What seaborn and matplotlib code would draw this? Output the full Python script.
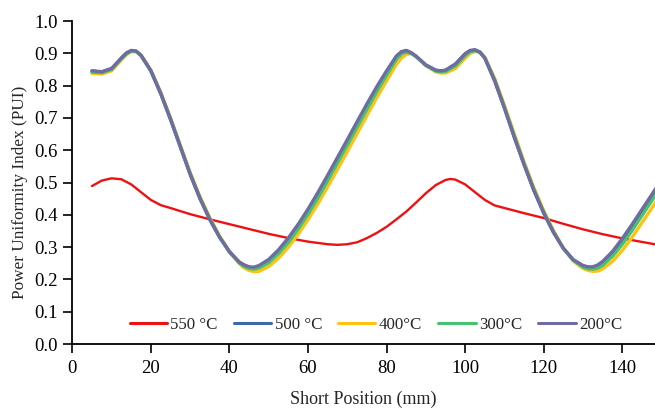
import matplotlib
matplotlib.use("Agg")
import matplotlib.pyplot as plt
import seaborn as sns
import pandas as pd

x_main = [5, 7.5, 10, 12.5, 13.75, 15, 16.25, 17.5, 20, 22.5,
          25, 27.5, 30, 32.5, 35, 37.5, 40, 42.5, 43.75, 45,
          46.25, 47.5, 50, 52.5, 55, 57.5, 60, 62.5, 65, 67.5,
          70, 72.5, 75, 77.5, 80, 82.5, 83.75, 85, 86.25, 87.5,
          90, 92.5, 93.75, 95, 97.5, 100, 101.25, 102.5, 103.75, 105,
          107.5, 110, 112.5, 115, 117.5, 120, 122.5, 125, 127.5, 130,
          131.25, 132.5, 133.75, 135, 137.5, 140, 142.5, 145, 147.5, 150]

pui_500 = [0.845, 0.842, 0.852, 0.885, 0.900, 0.908, 0.906, 0.893, 0.845, 0.775,
           0.695, 0.610, 0.525, 0.450, 0.385, 0.330, 0.285, 0.253, 0.243, 0.237,
           0.236, 0.240, 0.258, 0.287, 0.323, 0.365, 0.412, 0.463, 0.517, 0.572,
           0.627, 0.683, 0.738, 0.792, 0.842, 0.890, 0.904, 0.908, 0.901, 0.890,
           0.863, 0.847, 0.845, 0.847, 0.866, 0.898, 0.908, 0.910, 0.903, 0.885,
           0.815, 0.730, 0.640, 0.555, 0.475, 0.405, 0.345, 0.295, 0.260, 0.241,
           0.237, 0.237, 0.242, 0.252, 0.283, 0.322, 0.366, 0.412, 0.458, 0.505]

pui_400 = [0.838, 0.836, 0.846, 0.880, 0.896, 0.905, 0.905, 0.894, 0.848, 0.779,
           0.700, 0.615, 0.531, 0.456, 0.391, 0.334, 0.286, 0.249, 0.236, 0.228,
           0.224, 0.225, 0.240, 0.266, 0.300, 0.340, 0.385, 0.434, 0.487, 0.541,
           0.596, 0.652, 0.708, 0.763, 0.815, 0.866, 0.885, 0.897, 0.899, 0.891,
           0.862, 0.843, 0.839, 0.839, 0.853, 0.885, 0.900, 0.906, 0.903, 0.888,
           0.822, 0.738, 0.650, 0.563, 0.483, 0.412, 0.350, 0.297, 0.257, 0.234,
           0.228, 0.225, 0.226, 0.233, 0.256, 0.290, 0.331, 0.376, 0.421, 0.467]

pui_300 = [0.842, 0.840, 0.850, 0.883, 0.898, 0.907, 0.906, 0.893, 0.846, 0.777,
           0.697, 0.612, 0.527, 0.452, 0.387, 0.331, 0.285, 0.251, 0.240, 0.234,
           0.232, 0.235, 0.252, 0.280, 0.315, 0.356, 0.402, 0.452, 0.506, 0.561,
           0.616, 0.672, 0.727, 0.782, 0.832, 0.882, 0.898, 0.904, 0.900, 0.890,
           0.862, 0.845, 0.843, 0.844, 0.861, 0.893, 0.905, 0.908, 0.903, 0.886,
           0.818, 0.733, 0.644, 0.558, 0.478, 0.408, 0.347, 0.296, 0.259, 0.238,
           0.233, 0.232, 0.235, 0.244, 0.272, 0.309, 0.352, 0.398, 0.444, 0.490]

pui_200 = [0.846, 0.843, 0.853, 0.886, 0.901, 0.909, 0.907, 0.894, 0.846, 0.776,
           0.696, 0.611, 0.526, 0.451, 0.386, 0.331, 0.286, 0.254, 0.245, 0.239,
           0.238, 0.243, 0.262, 0.292, 0.329, 0.371, 0.418, 0.469, 0.523, 0.578,
           0.633, 0.689, 0.744, 0.797, 0.846, 0.892, 0.905, 0.909, 0.902, 0.891,
           0.864, 0.848, 0.846, 0.848, 0.867, 0.899, 0.909, 0.911, 0.904, 0.885,
           0.815, 0.730, 0.640, 0.555, 0.475, 0.405, 0.345, 0.296, 0.261, 0.243,
           0.239, 0.239, 0.245, 0.256, 0.287, 0.327, 0.371, 0.417, 0.463, 0.510]

x_550 = [5, 7.5, 10, 12.5, 15, 17.5, 20, 22.5, 25, 30,
         35, 40, 45, 50, 55, 60, 65, 67.5, 70, 72.5,
         75, 77.5, 80, 82.5, 85, 87.5, 90, 92.5, 95, 96.25,
         97.5, 100, 102.5, 105, 107.5, 110, 115, 120, 125, 130,
         135, 140, 145, 150]
pui_550 = [0.489, 0.506, 0.513, 0.510, 0.494, 0.470, 0.446, 0.430, 0.421, 0.402,
           0.386, 0.371, 0.356, 0.341, 0.328, 0.317, 0.309, 0.307, 0.309, 0.315,
           0.328, 0.344, 0.363, 0.386, 0.410, 0.438, 0.467, 0.492, 0.508, 0.511,
           0.509, 0.494, 0.470, 0.446, 0.429, 0.421, 0.405, 0.390, 0.372, 0.355,
           0.340, 0.327, 0.316, 0.305]

labels = ["550 °C", "500 °C", "400°C", "300°C", "200°C"]
colors = ["#EE1111", "#3B6BA5", "#FFC20E", "#45C371", "#6F6BA3"]

x_ticks = [0, 20, 40, 60, 80, 100, 120, 140]
y_ticks = [0.0, 0.1, 0.2, 0.3, 0.4, 0.5, 0.6, 0.7, 0.8, 0.9, 1.0]

frames = [pd.DataFrame({"x": x_550, "y": pui_550, "series": labels[0]})]
for lab, ys in zip(labels[1:], [pui_500, pui_400, pui_300, pui_200]):
    frames.append(pd.DataFrame({"x": x_main, "y": ys, "series": lab}))
df = pd.concat(frames, ignore_index=True)

sns.set_theme(style="ticks")
plt.rcParams["font.family"] = ["Liberation Serif", "DejaVu Serif"]

fig = plt.figure(figsize=(6.55, 4.12), dpi=100)
ax = fig.add_axes([0.1104, 0.165, 0.8896, 0.784])

sns.lineplot(data=df, x="x", y="y", hue="series", hue_order=labels,
             palette=dict(zip(labels, colors)), linewidth=1.7, sort=False,
             estimator=None, ax=ax)
for ln in ax.lines[1:5]:
    ln.set_linewidth(2.4)
for ln in ax.lines:
    ln.set_solid_joinstyle("round")
    ln.set_solid_capstyle("round")

ax.set_xlim(0, 148.3)
ax.set_ylim(0, 1.0)
ax.set_xticks(x_ticks)
ax.set_yticks(y_ticks)
ax.set_yticklabels([f"{v:.1f}" for v in y_ticks])
ax.tick_params(axis="both", direction="out", length=6.5, width=1.2, labelsize=13.5,
               colors="black", pad=4)
ax.tick_params(axis="x", pad=5)
for s in ["top", "right"]:
    ax.spines[s].set_visible(False)
for s in ["left", "bottom"]:
    ax.spines[s].set_linewidth(1.3)
    ax.spines[s].set_color("black")

ax.set_xlabel("Short Position (mm)", fontsize=13, labelpad=10)
ax.set_ylabel("Power Uniformity Index (PUI)", fontsize=12.4)
ax.yaxis.set_label_coords(-0.076, 0.47)

leg = ax.legend(loc="lower center", bbox_to_anchor=(0.521, -0.014), ncol=5, frameon=False,
                fontsize=12.2, handlelength=2.2, handletextpad=0.2, columnspacing=0.95)
for h in leg.get_lines():
    h.set_linewidth(2.2)

fig.savefig("out.png", dpi=100)
